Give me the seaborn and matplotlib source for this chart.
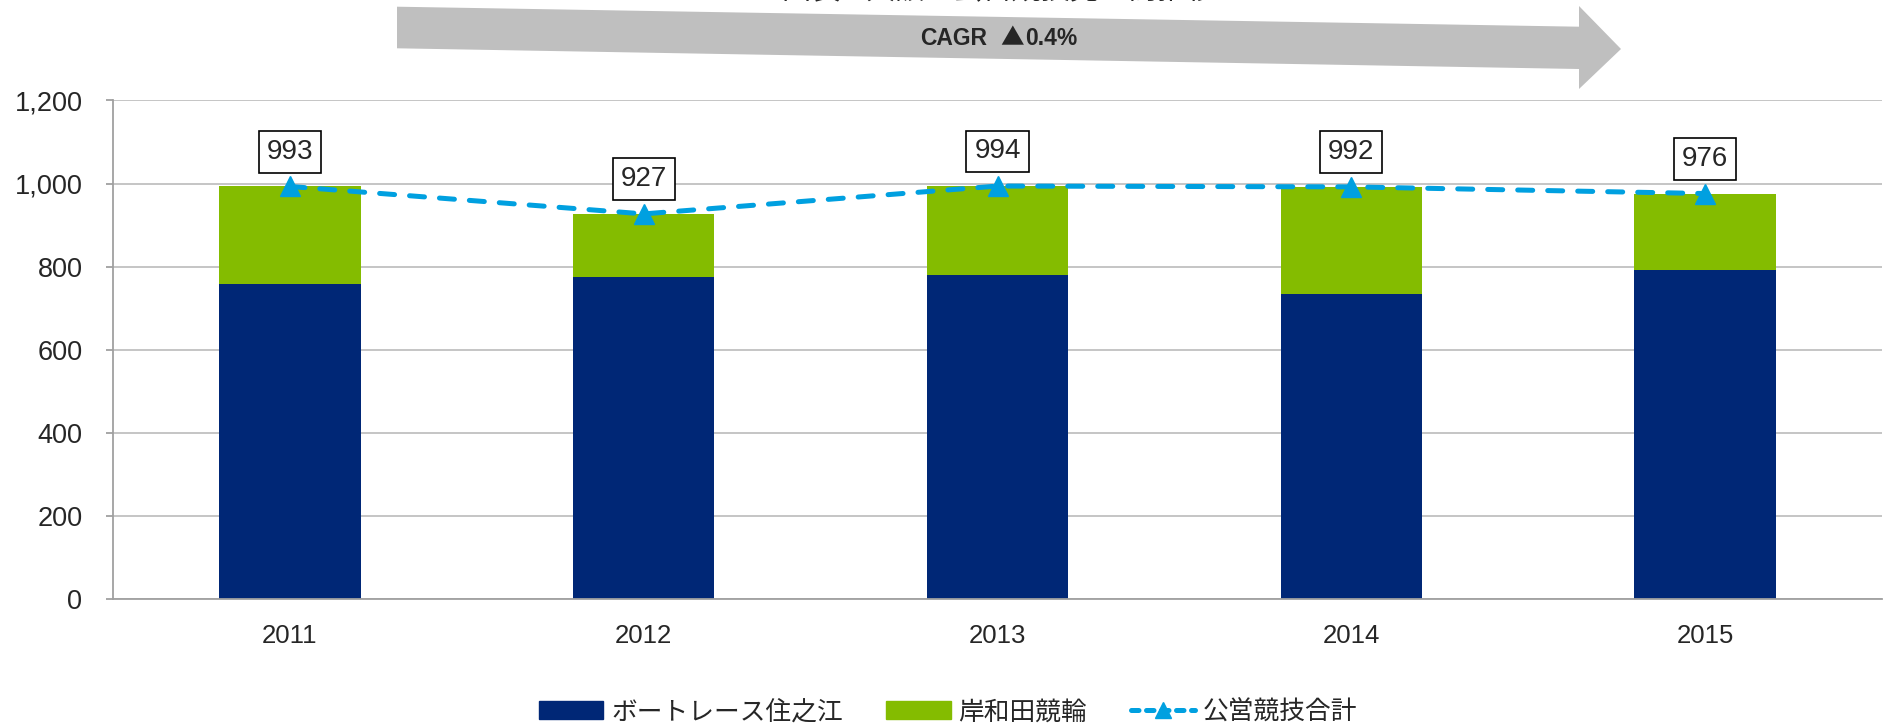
import numpy as np
import pandas as pd
import matplotlib.pyplot as plt
import matplotlib.patches as mpatches
import seaborn as sns

# data
years = ["2011", "2012", "2013", "2014", "2015"]
boat = [759, 775, 780, 734, 793]        # ボートレース住之江
keirin = [234, 152, 214, 258, 183]      # 岸和田競輪
labels = ["ボートレース住之江", "岸和田競輪", "公営競技合計"]
yticks = [0, 200, 400, 600, 800, 1000, 1200]

total = [b + k for b, k in zip(boat, keirin)]
df = pd.DataFrame({"year": years, "boat": boat, "keirin": keirin, "total": total})

BLUE = "#002776"
GREEN = "#84BC00"
SKY = "#00A0E0"

sns.set_style("white")
plt.rcParams["font.family"] = ["Liberation Sans", "Noto Sans CJK JP", "DejaVu Sans"]

W, H = 1885, 725
fig = plt.figure(figsize=(W / 100, H / 100), dpi=100)
ax = fig.add_axes([113 / W, 1 - 599.3 / H, (1882 - 113) / W, (599.3 - 100.4) / H])

# stacked bars: total in green, then the boat part over it in blue
sns.barplot(data=df, x="year", y="total", color=GREEN, width=0.4,
            saturation=1, linewidth=0, edgecolor="none", ax=ax, zorder=2)
sns.barplot(data=df, x="year", y="boat", color=BLUE, width=0.4,
            saturation=1, linewidth=0, edgecolor="none", ax=ax, zorder=2)

xpos = np.arange(len(years))
ax.plot(xpos, df["total"], color=SKY, lw=3.6, ls=(0, (3, 3)),
        dash_capstyle="round", marker="^", markersize=14, zorder=4)

for x, v in zip(xpos, df["total"]):
    ax.annotate(f"{v:,}", (x, v), xytext=(0, 25), textcoords="offset points",
                ha="center", va="center", fontsize=20, zorder=5,
                bbox=dict(boxstyle="square,pad=0.28", fc="white", ec="black", lw=1.2))

ax.set_xlim(-0.5, len(years) - 0.5)
ax.set_ylim(0, 1200)
ax.set_yticks(yticks)
ax.set_yticklabels([f"{t:,}" for t in yticks])
ax.set_xlabel("")
ax.set_ylabel("")
ax.grid(axis="y", color="#C0C0C0", lw=1.3, zorder=0)
ax.set_axisbelow(True)

for s in ["top", "right"]:
    ax.spines[s].set_visible(False)
for s in ["left", "bottom"]:
    ax.spines[s].set_color("#A0A0A0")
    ax.spines[s].set_linewidth(1.3)

ax.set_xticks(np.arange(-0.5, len(years), 1.0), minor=True)
ax.tick_params(axis="x", which="major", length=0, pad=18, labelsize=18.5)
ax.tick_params(axis="x", which="minor", length=6, width=1.3, color="#A0A0A0", direction="out")
ax.tick_params(axis="y", length=5, width=1.3, color="#A0A0A0", direction="out",
               pad=17, labelsize=19.5, left=True)

# legend at the bottom
handles = [mpatches.Patch(color=BLUE), mpatches.Patch(color=GREEN),
           plt.Line2D([], [], color=SKY, lw=3.6, ls=(0, (1.5, 1.5)),
                      dash_capstyle="round", marker="^", markersize=12)]
fig.legend(handles, labels, loc="center", bbox_to_anchor=(0.503, 1 - 712 / H),
           ncol=3, frameon=False, fontsize=18.5, handlelength=2.5, handleheight=0.7,
           handletextpad=0.3, columnspacing=1.7)

# CAGR arrow across the top
pts = [(397, 6.7), (1579, 26.7), (1579, 6), (1621, 49), (1579, 89), (1579, 69), (397, 48.3)]
arrow = mpatches.Polygon([(x / W, 1 - y / H) for x, y in pts], closed=True,
                         transform=fig.transFigure, fc="#BFBFBF", ec="none", zorder=1)
fig.patches.append(arrow)
ty = 1 - 38.5 / H
fig.text(987 / W, ty, "CAGR", ha="right", va="center", fontsize=16.5, fontweight="bold")
fig.text(1012 / W, ty, "▲", ha="center", va="center", fontsize=17,
         family=["Noto Sans CJK JP", "DejaVu Sans"])
fig.text(1025 / W, ty, "0.4%", ha="left", va="center", fontsize=16.5, fontweight="bold")

# title, clipped by the top edge as in the original
fig.text(999 / W, 1 - 5 / H, "図表○ 大阪の公営競技売上高推移", ha="center", va="bottom",
         fontsize=21)

fig.savefig("out.png", dpi=100)
